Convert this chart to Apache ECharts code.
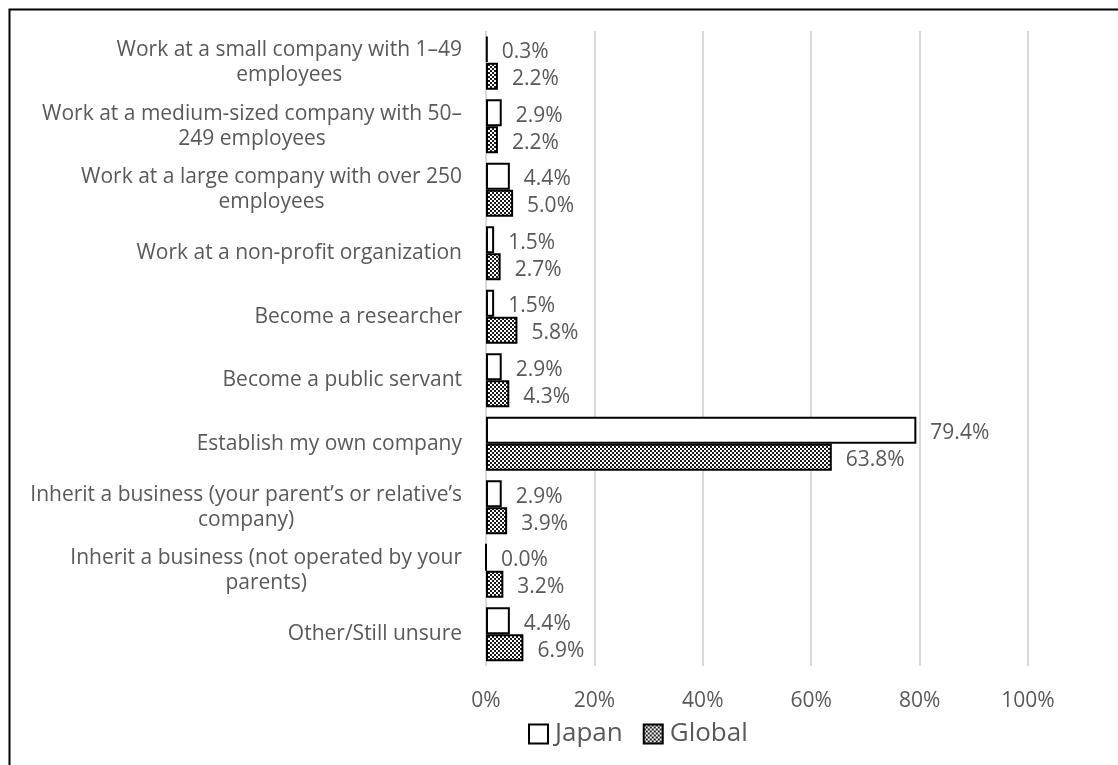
<!DOCTYPE html>
<html>
<head>
<meta charset="utf-8">
<script src="https://cdn.jsdelivr.net/npm/echarts@6/dist/echarts.min.js"></script>
<style>
  html, body { margin: 0; padding: 0; background: #fff; }
  #chart { width: 1118px; height: 765px; }
</style>
</head>
<body>
<div id="chart"></div>
<script>
// Career intentions, Japan vs Global (%)
const categories = [
  'Work at a small company with 1–49\nemployees',
  'Work at a medium-sized company with 50–\n249 employees',
  'Work at a large company with over 250\nemployees',
  'Work at a non-profit organization',
  'Become a researcher',
  'Become a public servant',
  'Establish my own company',
  'Inherit a business (your parent’s or relative’s\ncompany)',
  'Inherit a business (not operated by your\nparents)',
  'Other/Still unsure'
];
const japanValues  = [0.3, 2.9, 4.4, 1.5, 1.5, 2.9, 79.4, 2.9, 0.0, 4.4];
const globalValues = [2.2, 2.2, 5.0, 2.7, 5.8, 4.3, 63.8, 3.9, 3.2, 6.9];
const xTicks = { min: 0, max: 100, interval: 20 };

// small checkerboard fill for the Global bars
function checkerPattern() {
  const c = document.createElement('canvas');
  c.width = 4; c.height = 4;
  const g = c.getContext('2d');
  g.fillStyle = '#ffffff';
  g.fillRect(0, 0, 4, 4);
  g.fillStyle = '#1a1a1a';
  g.fillRect(0, 0, 2, 2);
  g.fillRect(2, 2, 2, 2);
  return { image: c, repeat: 'repeat' };
}

const FONT = '"Open Sans", "Noto Sans", sans-serif';
const TEXT_COLOR = '#595959';

const valueLabel = {
  show: true,
  position: 'right',
  distance: 14,
  offset: [0, 3],
  fontFamily: FONT,
  fontSize: 21,
  color: TEXT_COLOR,
  formatter: p => p.value.toFixed(1) + '%'
};

const chart = echarts.init(document.getElementById('chart'), null, { renderer: 'canvas' });
chart.setOption({
  animation: false,
  backgroundColor: '#ffffff',
  textStyle: { fontFamily: FONT },
  graphic: [{
    type: 'rect',
    left: 7, top: 7,
    shape: { x: 0, y: 0, width: 1300, height: 900 },
    style: { fill: 'none', stroke: '#000', lineWidth: 2 },
    silent: true
  }],
  grid: { left: 486, right: 90, top: 31, bottom: 99, containLabel: false },
  legend: {
    left: 523,
    top: 716,
    icon: 'rect',
    itemWidth: 19,
    itemHeight: 19,
    itemGap: 20,
    textStyle: { fontFamily: FONT, fontSize: 26, color: TEXT_COLOR, padding: [0, 0, 0, 2] },
    data: ['Japan', 'Global']
  },
  xAxis: {
    type: 'value',
    min: xTicks.min,
    max: xTicks.max,
    interval: xTicks.interval,
    axisLine: { show: false },
    axisTick: { show: false },
    axisLabel: { fontFamily: FONT, fontSize: 21, color: TEXT_COLOR, margin: 25, formatter: '{value}%' },
    splitLine: { show: true, lineStyle: { color: '#d9d9d9', width: 2 } }
  },
  yAxis: {
    type: 'category',
    inverse: true,
    data: categories,
    axisLine: { show: false },
    axisTick: { show: false },
    axisLabel: {
      margin: 24,
      align: 'right',
      // each wrapped line centred within the right-aligned label block
      formatter: v => v.split('\n').map(line => '{c|' + line + '}').join('\n'),
      rich: {
        c: { fontFamily: FONT, fontSize: 21, color: TEXT_COLOR, lineHeight: 25, align: 'center' }
      }
    }
  },
  series: [
    {
      name: 'Japan',
      type: 'bar',
      data: japanValues,
      barCategoryGap: '15%',
      barGap: '0%',
      itemStyle: { color: '#ffffff', borderColor: '#000000', borderWidth: 2 },
      label: valueLabel
    },
    {
      name: 'Global',
      type: 'bar',
      data: globalValues,
      itemStyle: { color: checkerPattern(), borderColor: '#000000', borderWidth: 2 },
      label: valueLabel
    }
  ]
});
</script>
</body>
</html>
